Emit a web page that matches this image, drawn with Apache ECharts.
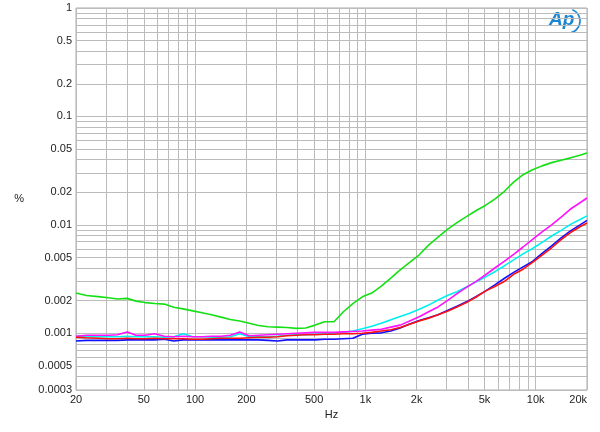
<!DOCTYPE html>
<html><head><meta charset="utf-8">
<script src="https://cdn.jsdelivr.net/npm/echarts@6/dist/echarts.min.js"></script>
<style>html,body{margin:0;padding:0;background:#fff}#c{width:600px;height:432px}</style>
</head><body><div id="c"></div>
<script>
const freqs = [20,23,27,31,35,40,45,51,58,66,75,85,97,110,125,142,161,183,208,236,268,305,346,393,446,507,576,654,743,844,959,1090,1240,1410,1600,1820,2070,2350,2670,3030,3450,3920,4450,5060,5750,6530,7420,8430,9580,10900,12400,14100,16000,18200,20000];
const green = [0.00235,0.00223,0.00218,0.00213,0.00207,0.00210,0.00198,0.00192,0.00188,0.00186,0.00174,0.00168,0.00161,0.00155,0.00148,0.00141,0.00134,0.00130,0.00124,0.00118,0.00115,0.00114,0.00113,0.00111,0.00112,0.00119,0.00128,0.00128,0.00158,0.00188,0.00217,0.00235,0.00272,0.00323,0.00385,0.00450,0.00530,0.00650,0.00770,0.00910,0.0105,0.0119,0.0135,0.0151,0.0173,0.0203,0.0248,0.0290,0.0322,0.0350,0.0375,0.0395,0.0415,0.0438,0.0459];
const magenta = [0.00094,0.00096,0.00096,0.00096,0.00097,0.00103,0.00096,0.00096,0.00099,0.00094,0.00093,0.00094,0.00093,0.00093,0.00094,0.00094,0.00096,0.00103,0.00095,0.00096,0.00097,0.00098,0.00099,0.00100,0.00101,0.00102,0.00102,0.00102,0.00103,0.00104,0.00105,0.00107,0.00109,0.00114,0.00119,0.00130,0.00142,0.00158,0.00175,0.00200,0.00232,0.00265,0.00300,0.00345,0.00400,0.00460,0.00535,0.00625,0.00735,0.00860,0.0100,0.0118,0.0140,0.0160,0.0177];
const cyan = [0.00094,0.00093,0.00093,0.00093,0.00093,0.00094,0.00093,0.00093,0.00093,0.00092,0.00093,0.00099,0.00093,0.00093,0.00092,0.00092,0.00093,0.00099,0.00093,0.00093,0.00093,0.00094,0.00096,0.00097,0.00097,0.00098,0.00099,0.00100,0.00102,0.00105,0.00110,0.00116,0.00124,0.00133,0.00143,0.00153,0.00167,0.00182,0.00203,0.00223,0.00242,0.00268,0.00297,0.00330,0.00370,0.00418,0.00475,0.00540,0.00605,0.00690,0.00790,0.00890,0.0101,0.0112,0.0121];
const blue = [0.00085,0.00086,0.00086,0.00086,0.00086,0.00087,0.00087,0.00087,0.00087,0.00088,0.00085,0.00087,0.00087,0.00087,0.00087,0.00087,0.00087,0.00087,0.00087,0.00087,0.00086,0.00085,0.00087,0.00087,0.00087,0.00087,0.00088,0.00088,0.00089,0.00090,0.00098,0.00100,0.00101,0.00105,0.00112,0.00122,0.00131,0.00139,0.00148,0.00162,0.00178,0.00195,0.00218,0.00245,0.00280,0.00320,0.00365,0.00410,0.00460,0.00545,0.00640,0.00760,0.00880,0.0100,0.0110];
const red = [0.00092,0.00091,0.00090,0.00089,0.00089,0.00090,0.00089,0.00089,0.00090,0.00089,0.00089,0.00089,0.00088,0.00088,0.00089,0.00090,0.00090,0.00090,0.00091,0.00092,0.00092,0.00093,0.00095,0.00096,0.00097,0.00097,0.00098,0.00098,0.00099,0.00099,0.00100,0.00102,0.00105,0.00108,0.00113,0.00121,0.00130,0.00138,0.00148,0.00160,0.00175,0.00192,0.00215,0.00245,0.00270,0.00300,0.00350,0.00390,0.00450,0.00525,0.00615,0.00730,0.00850,0.00960,0.0104];

const xGrid = [20,30,40,50,60,70,80,90,100,200,300,400,500,600,700,800,900,1000,2000,3000,4000,5000,6000,7000,8000,9000,10000,20000];
const xLabels = [20,50,100,200,500,1000,2000,5000,10000,20000];
const yGrid = [0.0003,0.0004,0.0005,0.0006,0.0007,0.0008,0.0009,0.001,0.002,0.003,0.004,0.005,0.006,0.007,0.008,0.009,0.01,0.02,0.03,0.04,0.05,0.06,0.07,0.08,0.09,0.1,0.2,0.3,0.4,0.5,0.6,0.7,0.8,0.9,1];
const yLabels = [0.0003,0.0005,0.001,0.002,0.005,0.01,0.02,0.05,0.1,0.2,0.5,1];

const seriesDefs = [
  {name:'green', data:green, color:'#14e014'},
  {name:'cyan', data:cyan, color:'#00f0f0'},
  {name:'magenta', data:magenta, color:'#ff10ff'},
  {name:'blue', data:blue, color:'#1010ff'},
  {name:'red', data:red, color:'#ff1010'}
];

const chart = echarts.init(document.getElementById('c'), null, {renderer:'canvas'});
const font = 'Liberation Sans, Arial, sans-serif';
chart.setOption({
  animation:false,
  backgroundColor:'#fff',
  grid:{left:76,right:13,top:8,bottom:42,containLabel:false,show:true,borderColor:'#aaaaaa',borderWidth:1},
  xAxis:{type:'log',logBase:10,min:20,max:20000,
    name:'Hz',nameLocation:'middle',nameGap:16,nameTextStyle:{color:'#222',fontSize:11,fontFamily:font},
    axisLine:{show:false},
    axisTick:{show:false,customValues:xGrid},
    splitLine:{show:true,lineStyle:{color:'#bcbcbc',width:1}},
    axisLabel:{customValues:xLabels,color:'#222',fontSize:11,fontFamily:font,margin:4,alignMaxLabel:'right',
      formatter:v=>v>=1000?(v/1000)+'k':String(v)}
  },
  yAxis:{type:'log',logBase:10,min:0.0003,max:1,
    name:'%',nameLocation:'middle',nameRotate:0,nameGap:52,nameTextStyle:{color:'#222',fontSize:11,fontFamily:font},
    axisLine:{show:false},
    axisTick:{show:false,customValues:yGrid},
    splitLine:{show:true,lineStyle:{color:'#bcbcbc',width:1}},
    axisLabel:{customValues:yLabels,color:'#222',fontSize:11,fontFamily:font,margin:4,
      formatter:v=>String(v)}
  },
  graphic:[
    {type:'text',left:549,top:10,style:{text:'Ap',fill:'#1a87d2',font:'italic bold 19px '+font}},
    {type:'arc',shape:{cx:568,cy:21,r:12,startAngle:-1.2,endAngle:1.3},style:{stroke:'#1a87d2',lineWidth:1.6,fill:null}}
  ],
  series:seriesDefs.map(s=>({
    type:'line',name:s.name,showSymbol:false,symbol:'none',smooth:false,
    lineStyle:{color:s.color,width:1.6},itemStyle:{color:s.color},
    data:freqs.map((f,i)=>[f,s.data[i]])
  }))
});
</script></body></html>
